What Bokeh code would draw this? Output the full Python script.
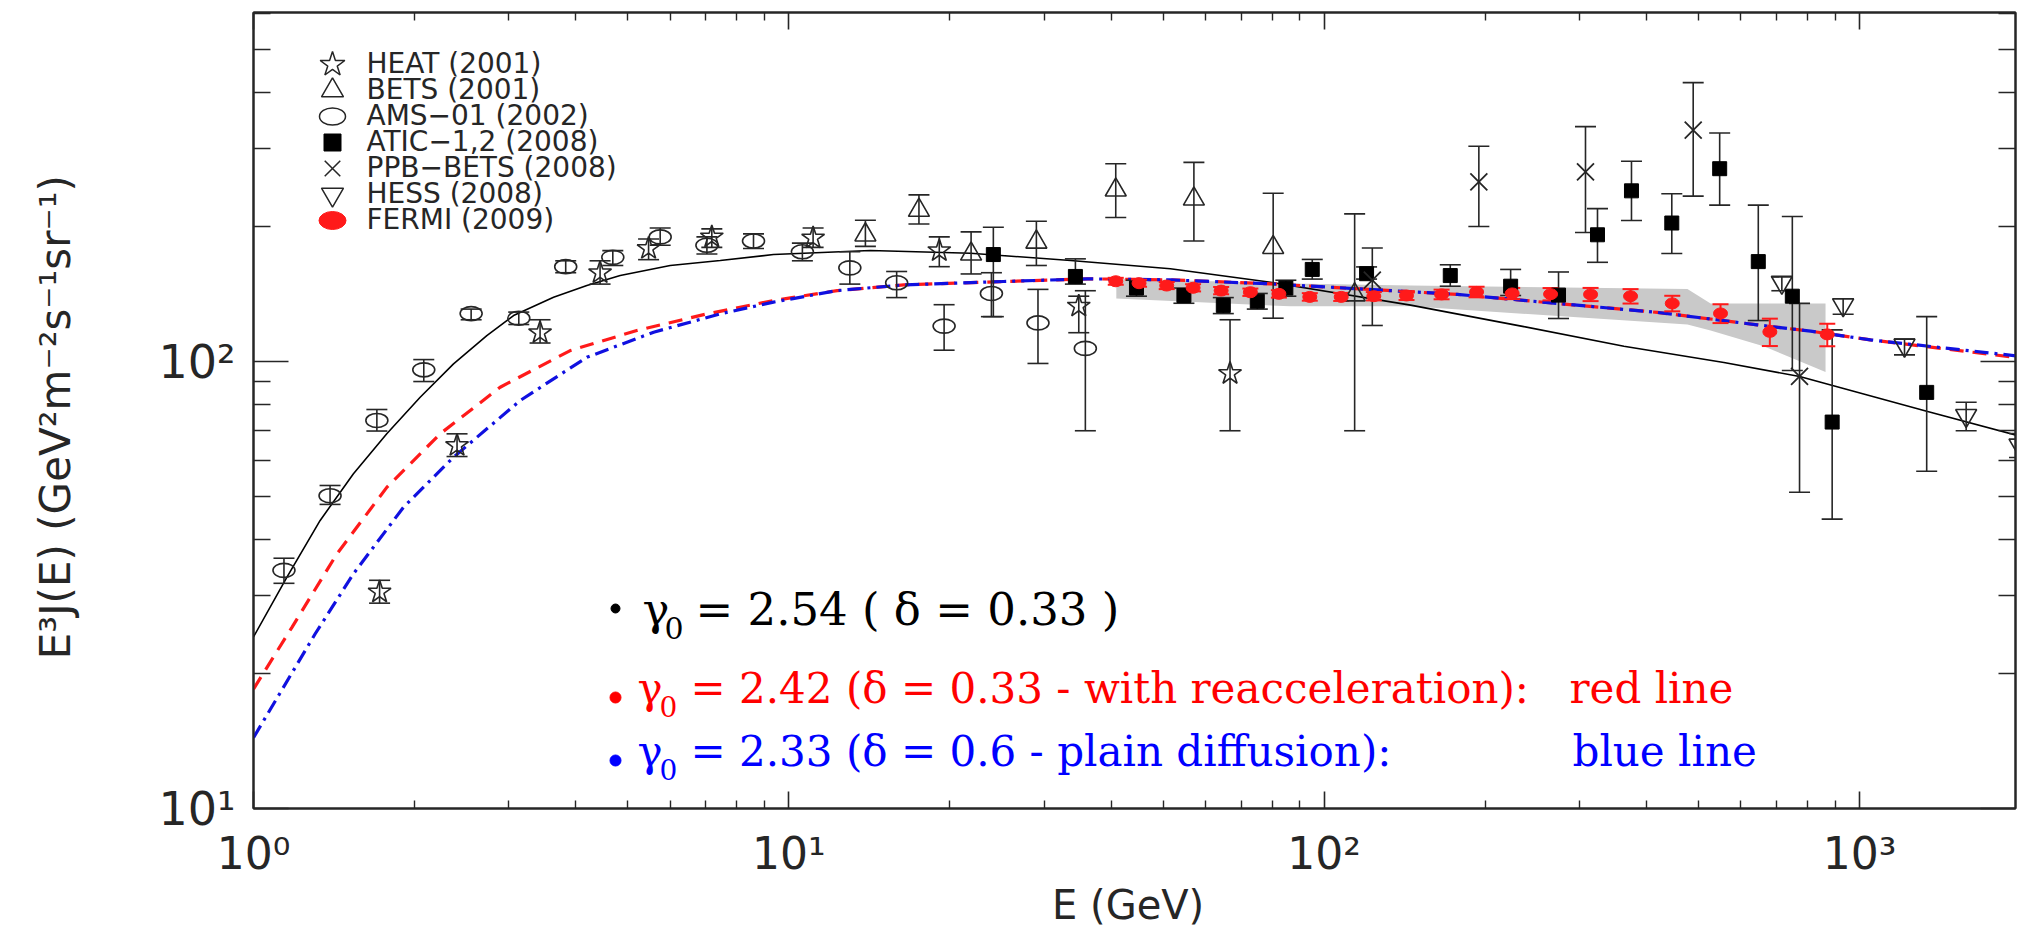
from bokeh.plotting import figure
from bokeh.models import Range1d, LogAxis, FixedTicker, Label, LinearScale
from bokeh.embed import file_html
from bokeh.resources import INLINE

# ---------------- data ----------------
X_MAJOR = [1, 10, 100, 1000]
Y_MAJOR = [10, 100, 1000]
MANTISSAS = [2, 3, 4, 5, 6, 7, 8, 9]
X_LABELS = {1: "10⁰", 10: "10¹", 100: "10²", 1000: "10³"}
Y_LABELS = {10: "10¹", 100: "10²", 1000: "10³"}

heat_E = [1.72, 2.40, 3.43, 4.44, 5.47, 7.18, 11.1, 19.1, 34.8, 66.7]
heat_y = [30.5, 64.9, 116, 158, 179, 190, 189, 177, 133, 94]
heat_lo = [28.8, 61.3, 110, 149, 169, 180, 180, 163, 116, 70]
heat_hi = [32.4, 68.9, 124, 168, 188, 198, 199, 190, 140, 124]

bets_E = [13.9, 17.5, 21.9, 29.0, 40.8, 57.1, 80.3, 114]
bets_y = [192, 218, 174, 185, 242, 231, 180, 141]
bets_lo = [181, 203, 157, 164, 210, 186, 125, 70]
bets_hi = [207, 236, 195, 206, 277, 279, 238, 214]

ams_E = [1.14, 1.39, 1.70, 2.08, 2.55, 3.13, 3.83, 4.69, 5.75, 7.03, 8.59, 10.6, 13.0, 15.9, 19.5, 23.9, 29.2, 35.8]
ams_y = [34.1, 50.1, 73.8, 95.8, 128, 125, 163, 171, 190, 182, 186, 176, 162, 150, 120, 142, 122, 107]
ams_lo = [31.9, 47.9, 69.9, 90.2, 124, 121, 158, 164, 182, 174, 179, 168, 149, 139, 106, 126, 99, 70]
ams_hi = [36.3, 52.8, 78.1, 101, 131, 129, 168, 177, 199, 190, 193, 184, 176, 159, 134, 158, 145, 144]

atic_E = [24.1, 34.3, 44.6, 54.7, 64.8, 75.0, 84.8, 95.0, 120, 172, 223, 274, 324, 375, 446, 548, 647, 749, 889, 1335]
atic_y = [173.5, 155, 146, 140.5, 133.5, 136.4, 146, 160.7, 157.2, 155.7, 147.4, 140.8, 192.1, 240.9, 204.1, 270, 167.3, 140, 73.2, 85.3]
atic_lo = [126, 149, 140, 135, 128, 131, 140, 152.9, 152.9, 147.4, 140.5, 124.8, 166.7, 206.8, 174.5, 223.8, 123.5, 95.5, 44.4, 56.8]
atic_hi = [199.7, 169.7, 152, 146, 139, 142, 152, 169.2, 162.8, 164.6, 160.7, 158.6, 219.8, 280.6, 237.4, 324.5, 223.8, 211, 117.7, 126]

ppb_E = [123, 194.5, 307.7, 489, 772.6]
ppb_y = [152.1, 252.2, 265.6, 329.4, 92.6]
ppb_lo = [120.4, 200.4, 194.3, 234.4, 51]
ppb_hi = [179.5, 303.1, 335.4, 420.7, 134.9]

hess_E = [716, 932, 1213.5, 1582, 1990]
hess_y = [150.4, 133.9, 108.8, 75.7, 65]
hess_lo = [144, 127.6, 103.5, 70, 61]
hess_hi = [154.5, 138.2, 112.2, 81.1, 69]

fermi_E = [40.8, 45.1, 50.8, 56.9, 64.2, 72.8, 82.3, 94.0, 107.6, 123.8, 142.5, 165.7, 192.6, 224.5, 264.8, 314.5, 373.5, 446.9, 550, 680, 870.5]
fermi_y = [151.2, 149.7, 147.9, 146.2, 144.1, 142.9, 141.7, 139.5, 139.5, 140, 140.5, 141.3, 143.1, 142, 141.5, 141.3, 140, 134.9, 128.1, 116.5, 115]
fermi_lo = [148.5, 147, 145.2, 143.5, 141.4, 140.2, 139, 136.8, 136.6, 137, 137.3, 137.8, 139.2, 137.9, 137, 136.5, 134.8, 129.5, 121.9, 108.3, 108.2]
fermi_hi = [153.9, 152.4, 150.6, 148.9, 146.8, 145.6, 144.4, 142.2, 142.4, 143, 143.7, 144.8, 147, 146.1, 146, 146.1, 145.2, 140.3, 134.3, 124.7, 121.5]

band_E = [40.9, 86.5, 145, 477, 527, 662, 864]
band_hi = [153.4, 149.4, 147.9, 145.2, 134.9, 134.9, 134.9]
band_lo = [138.3, 132.9, 132.9, 121.0, 117.3, 108.2, 94.8]

black_E = [1.0, 1.154, 1.332, 1.537, 1.774, 2.048, 2.364, 2.728, 3.06, 3.635, 4.195, 4.842, 6.003, 7.445, 9.36,
           14.2, 21.85, 33.6, 51.6, 79.4, 145, 236, 363, 558, 773, 1335, 1973]
black_y = [24.2, 32.9, 44.1, 56.1, 68.9, 83.2, 98.8, 114.3, 126.7, 139.3, 147.9, 155.7, 164, 168.2, 173.5,
           177.1, 174.7, 168.2, 161.2, 150.4, 133.7, 119.7, 108.2, 99.5, 92.6, 77.4, 68.3]

red_E = [1.0, 1.179, 1.431, 1.774, 2.232, 2.889, 3.905, 5.2, 7.03, 9.36, 12.31, 16.4, 25.2, 36.1, 51.6, 79.4,
         177.3, 272.4, 418.9, 644.2, 810.3, 1048, 1971]
red_y = [18.5, 25.4, 37.1, 52.3, 68.9, 87.6, 105.8, 117.3, 127.8, 136.9, 144.1, 148.4, 151.0, 153.1, 152.3, 149.2,
         141.3, 134.9, 128.8, 120.8, 116.9, 111.8, 102.0]

blue_E = [1.0, 1.304, 1.537, 1.906, 2.364, 3.149, 4.195, 5.59, 7.445, 9.36, 12.31, 16.4, 25.2, 36.1, 51.6, 79.4,
          177.3, 272.4, 418.9, 644.2, 810.3, 1048, 1971]
blue_y = [14.4, 24.6, 33.5, 47.2, 61.1, 81.8, 102.2, 116.3, 127.8, 135.8, 144.1, 148.4, 151.0, 153.1, 152.3, 149.2,
          141.3, 134.9, 128.8, 120.8, 116.9, 111.8, 102.9]

LEGEND_LABELS = ["HEAT (2001)", "BETS (2001)", "AMS−01 (2002)", "ATIC−1,2 (2008)",
                 "PPB−BETS (2008)", "HESS (2008)", "FERMI (2009)"]

# ---------------- layout constants ----------------
INK = "#262626"
RED = "#ff1a1a"
BLUE = "#1010e0"
SANS = "DejaVu Sans"
SERIF = "DejaVu Serif"
FL, FT, FW, FH = 253, 12, 1762, 796   # frame left / top / width / height (page px)
FB = FT + FH

p = figure(x_axis_type="log", y_axis_type="log",
           x_range=Range1d(1, 1956), y_range=Range1d(10, 603.7),
           frame_width=FW, frame_height=FH,
           min_border_left=FL, min_border_right=2, min_border_top=FT, min_border_bottom=931 - FB,
           output_backend="svg", toolbar_location=None)
p.background_fill_color = "white"
p.border_fill_color = "white"
p.outline_line_color = INK
p.outline_line_width = 2
p.grid.visible = False

# pixel-space ranges for legend / decorations
p.extra_x_ranges = {"px": Range1d(0, FW)}
p.extra_y_ranges = {"py": Range1d(0, FH)}
p.extra_x_scales = {"px": LinearScale()}
p.extra_y_scales = {"py": LinearScale()}

x_minor = [m * d for d in X_MAJOR for m in MANTISSAS]
y_minor = [m * d for d in Y_MAJOR for m in MANTISSAS]
xt = FixedTicker(ticks=X_MAJOR, minor_ticks=x_minor)
yt = FixedTicker(ticks=Y_MAJOR, minor_ticks=y_minor)


def style_axis(ax, tin, mtin, labels=True):
    ax.axis_line_color = INK
    ax.axis_line_width = 2
    ax.major_tick_line_color = INK
    ax.minor_tick_line_color = INK
    ax.major_tick_line_width = 1.6
    ax.minor_tick_line_width = 1.4
    ax.major_tick_in = tin
    ax.major_tick_out = 0
    ax.minor_tick_in = mtin
    ax.minor_tick_out = 0
    if not labels:
        ax.major_label_text_font_size = "1px"
        ax.major_label_text_alpha = 0
        ax.major_label_standoff = 0


xa = p.xaxis[0]
xa.ticker = xt
xa.major_label_overrides = X_LABELS
style_axis(xa, 17, 8)
xa.major_label_text_font = SANS
xa.major_label_text_font_size = "44px"
xa.major_label_text_color = INK
xa.major_label_standoff = 19
xa.axis_label = "E  (GeV)"
xa.axis_label_text_font = SANS
xa.axis_label_text_font_size = "40px"
xa.axis_label_text_font_style = "normal"
xa.axis_label_text_color = INK
xa.axis_label_standoff = 0

ya = p.yaxis[0]
ya.ticker = yt
ya.major_label_overrides = Y_LABELS
style_axis(ya, 35, 17)
ya.major_label_text_font = SANS
ya.major_label_text_font_size = "46px"
ya.major_label_text_color = INK
ya.major_label_standoff = 18
ya.axis_label = "E³J(E)  (GeV²m⁻²s⁻¹sr⁻¹)"
ya.axis_label_text_font = SANS
ya.axis_label_text_font_size = "42px"
ya.axis_label_text_font_style = "normal"
ya.axis_label_text_color = INK
ya.axis_label_standoff = 76

top = LogAxis(ticker=xt)
style_axis(top, 17, 8, labels=False)
p.add_layout(top, "above")
right = LogAxis(ticker=yt)
style_axis(right, 35, 17, labels=False)
p.add_layout(right, "right")

# ---------------- band & model curves ----------------
p.varea(x=band_E, y1=band_lo, y2=band_hi, fill_color="#c9c9c9", fill_alpha=1)
p.line(black_E, black_y, line_color="black", line_width=1.6)
p.line(red_E, red_y, line_color=RED, line_width=3.2, line_dash="14 9")
p.line(blue_E, blue_y, line_color=BLUE, line_width=3.2, line_dash="14 6 3 6")


def errorbars(E, lo, hi, color, cap, lw=1.6):
    p.segment(x0=E, y0=lo, x1=E, y1=hi, line_color=color, line_width=lw)
    p.scatter(x=E, y=lo, marker="dash", size=cap, line_color=color, line_width=lw)
    p.scatter(x=E, y=hi, marker="dash", size=cap, line_color=color, line_width=lw)


errorbars(ams_E, ams_lo, ams_hi, INK, 21)
errorbars(heat_E, heat_lo, heat_hi, INK, 21)
errorbars(bets_E, bets_lo, bets_hi, INK, 21)
errorbars(atic_E, atic_lo, atic_hi, INK, 21)
errorbars(ppb_E, ppb_lo, ppb_hi, INK, 21)
errorbars(hess_E, hess_lo, hess_hi, INK, 21)
errorbars(fermi_E, fermi_lo, fermi_hi, RED, 16, lw=2)

p.ellipse(x=ams_E, y=ams_y, width=22, height=14, width_units="screen", height_units="screen",
          fill_color=None, line_color=INK, line_width=1.6)
p.scatter(heat_E, heat_y, marker="star", size=24, fill_color=None, line_color=INK, line_width=1.6)
p.scatter(bets_E, bets_y, marker="triangle", size=21, fill_color=None, line_color=INK, line_width=1.6)
p.scatter(atic_E, atic_y, marker="square", size=14, fill_color="black", line_color="black")
p.scatter(ppb_E, ppb_y, marker="x", size=24, line_color=INK, line_width=1.8)
p.scatter(hess_E, hess_y, marker="inverted_triangle", size=21, fill_color=None, line_color=INK, line_width=1.6)
p.ellipse(x=fermi_E, y=fermi_y, width=14, height=11, width_units="screen", height_units="screen",
          fill_color=RED, line_color=RED)

# ---------------- legend (drawn in pixel space) ----------------
LEG_X, LEG_TOP, LEG_STEP, LEG_TEXT_X = 332, 64, 26, 366
LEG_STYLE = [("star", 26, None, 1.5), ("triangle", 22, None, 1.5), ("ellipse", 0, None, 1.5),
             ("square", 17, "black", 1), ("x", 22, None, 1.5), ("inverted_triangle", 22, None, 1.5),
             ("ellipse_red", 0, RED, 1)]
for i, (lab, (mk, sz, fill, lw)) in enumerate(zip(LEGEND_LABELS, LEG_STYLE)):
    cy = FB - (LEG_TOP + i * LEG_STEP)
    cx = LEG_X - FL
    if mk == "ellipse":
        p.ellipse(x=[cx], y=[cy], width=26, height=17, x_range_name="px", y_range_name="py",
                  fill_color=None, line_color=INK, line_width=lw)
    elif mk == "ellipse_red":
        p.ellipse(x=[cx], y=[cy], width=27, height=18, x_range_name="px", y_range_name="py",
                  fill_color=RED, line_color=RED)
    else:
        p.scatter(x=[cx], y=[cy], marker=mk, size=sz, x_range_name="px", y_range_name="py",
                  fill_color=fill, line_color="black" if fill else INK, line_width=lw)


# ---------------- text labels ----------------
def note(x, base_y, text, size, color, font=SERIF):
    # base_y: wanted baseline in page px; Bokeh places the alphabetic baseline ~0.41em lower
    p.add_layout(Label(x=x - FL, y=FB - (base_y - 0.41 * size), x_units="screen", y_units="screen",
                       text=text, text_font=font, text_font_size=f"{size}px", text_color=color,
                       text_baseline="alphabetic", text_align="left"))


for i, lab in enumerate(LEGEND_LABELS):
    note(LEG_TEXT_X, LEG_TOP + i * LEG_STEP + 10, lab, 28, INK, font=SANS)

# bullets
p.scatter(x=[615 - FL, 615 - FL, 615 - FL], y=[FB - 608, FB - 697, FB - 760], size=[9, 11, 11],
          color=["black", "#ff0000", "#0000ff"], x_range_name="px", y_range_name="py")

# black line
note(642, 627, "γ", 45, "black")
note(664, 640, "0", 30, "black")
note(695, 627, "= 2.54 ( δ = 0.33 )", 45, "black")
# red line
note(637, 705, "γ", 42, "#ff0000")
note(659, 717, "0", 28, "#ff0000")
note(690, 705, "= 2.42 (δ = 0.33 - with reacceleration):", 42, "#ff0000")
note(1569, 705, "red line", 42, "#ff0000")
# blue line
note(637, 768, "γ", 42, "#0000ff")
note(659, 780, "0", 28, "#0000ff")
note(690, 768, "= 2.33 (δ = 0.6 - plain diffusion):", 42, "#0000ff")
note(1572, 768, "blue line", 42, "#0000ff")

open("out.html", "w").write(file_html(p, INLINE))
